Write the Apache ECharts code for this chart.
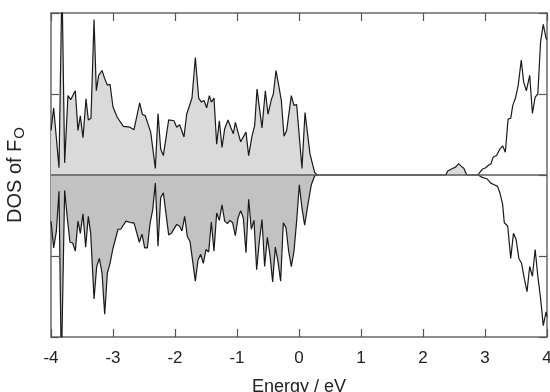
<!DOCTYPE html>
<html>
<head>
<meta charset="utf-8">
<script src="https://cdn.jsdelivr.net/npm/echarts@6/dist/echarts.min.js"></script>
<style>
  html, body { margin: 0; padding: 0; background: #fff; }
  #chart { width: 550px; height: 392px; }
</style>
</head>
<body>
<div id="chart"></div>
<script>
// spin-up DOS, occupied part (filled light grey)
const upE = [-4.000, -3.957, -3.871, -3.823, -3.780, -3.726, -3.683, -3.608, -3.565, -3.527,
  -3.484, -3.435, -3.398, -3.355, -3.306, -3.269, -3.231, -3.177, -3.134, -3.091,
  -3.048, -3.000, -2.930, -2.833, -2.726, -2.661, -2.570, -2.527, -2.478, -2.392,
  -2.317, -2.274, -2.231, -2.188, -2.102, -2.016, -1.973, -1.925, -1.855, -1.812,
  -1.726, -1.672, -1.618, -1.575, -1.532, -1.489, -1.446, -1.414, -1.371, -1.328,
  -1.285, -1.242, -1.199, -1.145, -1.102, -1.059, -1.027, -0.941, -0.855, -0.812,
  -0.758, -0.715, -0.677, -0.597, -0.543, -0.500, -0.446, -0.414, -0.371, -0.328,
  -0.285, -0.242, -0.199, -0.124, -0.081, -0.038, 0.048, 0.097, 0.177, 0.253,
  0.296, 2.366, 2.399, 2.475, 2.530, 2.574, 2.617, 2.661, 2.705, 2.891]
const upDos = [0.55, 0.83, 0.09, 2.40, 0.15, 0.98, 0.93, 1.04, 0.55, 0.73,
  0.46, 0.94, 0.68, 0.70, 1.92, 1.04, 1.23, 1.29, 1.19, 1.11,
  1.12, 0.84, 0.71, 0.60, 0.59, 0.56, 0.89, 0.75, 0.73, 0.53,
  0.08, 0.76, 0.32, 0.24, 0.68, 0.67, 0.59, 0.62, 0.47, 0.75,
  0.95, 1.45, 0.95, 0.90, 0.92, 0.83, 0.98, 0.90, 0.95, 0.38,
  0.67, 0.34, 0.57, 0.68, 0.59, 0.51, 0.65, 0.41, 0.53, 0.24,
  0.48, 0.61, 1.06, 0.58, 1.04, 0.75, 0.93, 1.00, 1.29, 1.11,
  0.92, 0.48, 0.55, 0.98, 0.86, 0.87, 0.08, 0.77, 0.26, 0.03,
  0.00, 0.00, 0.05, 0.08, 0.10, 0.14, 0.11, 0.08, 0.00, 0.00]

// spin-down DOS, occupied part (filled darker grey)
const dnE = [-4.000, -3.957, -3.914, -3.871, -3.833, -3.780, -3.737, -3.694, -3.651, -3.608,
  -3.565, -3.527, -3.484, -3.441, -3.398, -3.360, -3.306, -3.263, -3.220, -3.177,
  -3.134, -3.091, -3.048, -3.005, -2.919, -2.876, -2.790, -2.704, -2.661, -2.575,
  -2.532, -2.489, -2.446, -2.403, -2.360, -2.317, -2.274, -2.231, -2.188, -2.102,
  -2.059, -1.973, -1.930, -1.887, -1.844, -1.801, -1.758, -1.672, -1.629, -1.586,
  -1.543, -1.500, -1.457, -1.414, -1.371, -1.328, -1.285, -1.242, -1.199, -1.156,
  -1.113, -1.070, -1.027, -0.984, -0.941, -0.898, -0.855, -0.812, -0.769, -0.726,
  -0.683, -0.640, -0.597, -0.554, -0.511, -0.468, -0.425, -0.382, -0.339, -0.296,
  -0.253, -0.210, -0.167, -0.124, -0.081, -0.038, 0.005, 0.048, 0.091, 0.145,
  0.199, 0.253, 0.296]
const dnDos = [-0.57, -0.90, -0.70, -0.20, -2.40, -0.19, -0.53, -0.83, -0.84, -0.94,
  -0.57, -0.72, -0.48, -0.89, -0.51, -0.72, -1.53, -1.13, -1.03, -1.21,
  -1.72, -1.21, -1.09, -0.92, -0.67, -0.67, -0.57, -0.59, -0.59, -0.83,
  -0.73, -0.90, -0.90, -0.60, -0.43, -0.10, -0.88, -0.28, -0.22, -0.74,
  -0.72, -0.61, -0.63, -0.69, -0.51, -0.76, -0.82, -1.31, -1.05, -0.98,
  -1.09, -0.92, -0.95, -0.58, -0.94, -0.47, -0.56, -0.37, -0.57, -0.60,
  -0.56, -0.59, -0.75, -0.53, -0.44, -0.53, -0.96, -0.30, -0.67, -0.56,
  -1.17, -0.82, -0.55, -1.13, -0.77, -0.99, -1.32, -0.89, -1.07, -1.31,
  -0.59, -0.65, -0.94, -1.13, -0.94, -0.57, -0.12, -0.41, -0.62, -0.36,
  -0.12, -0.01, 0.00]

// conduction band, unfilled
const cbUpE = [2.891, 2.913, 2.956, 3.011, 3.055, 3.098, 3.131, 3.186, 3.240, 3.284,
  3.328, 3.372, 3.415, 3.448, 3.492, 3.536, 3.585, 3.623, 3.667, 3.721,
  3.765, 3.809, 3.852, 3.896, 3.940, 3.984, 4.000]
const cbUpDos = [0.00, 0.03, 0.07, 0.09, 0.12, 0.14, 0.22, 0.24, 0.32, 0.36,
  0.28, 0.69, 0.70, 0.86, 0.95, 1.11, 1.42, 1.15, 1.04, 1.23,
  0.76, 0.96, 1.00, 1.64, 1.86, 1.69, 1.67]
const cbDnE = [2.891, 2.956, 3.038, 3.093, 3.148, 3.202, 3.240, 3.284, 3.311, 3.366,
  3.415, 3.459, 3.503, 3.546, 3.590, 3.634, 3.678, 3.721, 3.765, 3.809,
  3.852, 3.896, 3.940, 3.984, 4.000]
const cbDnDos = [0.00, -0.03, -0.05, -0.10, -0.12, -0.14, -0.22, -0.36, -0.59, -0.63,
  -1.03, -0.72, -0.80, -1.03, -1.09, -1.28, -1.44, -1.13, -1.25, -0.92,
  -1.25, -1.52, -1.86, -1.69, -1.75]

const xTicks = ['-4', '-3', '-2', '-1', '0', '1', '2', '3', '4']

const zip = (xs, ys) => xs.map((x, i) => [x, ys[i]])

const frame = { show: true, onZero: false, lineStyle: { color: '#6a6a6a', width: 1.5 } }
const tickIn = { show: true, inside: true, length: 8, lineStyle: { color: '#555', width: 1.2 } }
const font = 'Liberation Sans, Arial, sans-serif'

const lineSeries = (data, fill) => ({
  type: 'line',
  data: data,
  showSymbol: false,
  symbol: 'none',
  silent: true,
  lineStyle: { color: '#1a1a1a', width: 1.2 },
  areaStyle: fill ? { color: fill, opacity: 1 } : undefined
})

const chart = echarts.init(document.getElementById('chart'))
chart.setOption({
  animation: false,
  grid: { left: 51, right: 3, top: 13, bottom: 55, containLabel: false, outerBoundsMode: 'none' },
  xAxis: [
    {
      type: 'value', min: -4, max: 4, interval: 1,
      name: 'Energy / eV', nameLocation: 'middle', nameGap: 41,
      nameTextStyle: { fontFamily: font, fontSize: 18, color: '#222' },
      axisLine: frame, axisTick: tickIn, splitLine: { show: false },
      axisLabel: {
        fontFamily: font, fontSize: 17, color: '#222', margin: 13,
        formatter: (v) => xTicks[Math.round(v + 4)]
      }
    },
    {
      type: 'value', position: 'top', min: -4, max: 4, interval: 1,
      axisLine: frame, axisTick: tickIn, axisLabel: { show: false }, splitLine: { show: false }
    }
  ],
  yAxis: [
    {
      type: 'value', min: -2, max: 2, interval: 1,
      name: '{m|DOS of F}{s|O}', nameLocation: 'middle', nameGap: 23,
      nameTextStyle: {
        rich: {
          m: { fontFamily: font, fontSize: 20, color: '#222', lineHeight: 26 },
          s: { fontFamily: font, fontSize: 15, color: '#222', lineHeight: 26, padding: [9, 0, 0, 1] }
        }
      },
      axisLine: frame, axisTick: tickIn, axisLabel: { show: false }, splitLine: { show: false }
    },
    {
      type: 'value', position: 'right', min: -2, max: 2, interval: 1,
      axisLine: frame, axisTick: tickIn, axisLabel: { show: false }, splitLine: { show: false }
    }
  ],
  series: [
    lineSeries(zip(upE, upDos), '#dadada'),
    lineSeries(zip(dnE, dnDos), '#c2c2c2'),
    lineSeries(zip(cbUpE, cbUpDos), null),
    lineSeries(zip(cbDnE, cbDnDos), null),
    {
      type: 'line', data: [], silent: true,
      markLine: {
        silent: true, symbol: 'none', label: { show: false },
        lineStyle: { color: '#5a5a5a', width: 1.6, type: 'solid' },
        data: [{ yAxis: 0 }]
      }
    }
  ]
})
</script>
</body>
</html>
